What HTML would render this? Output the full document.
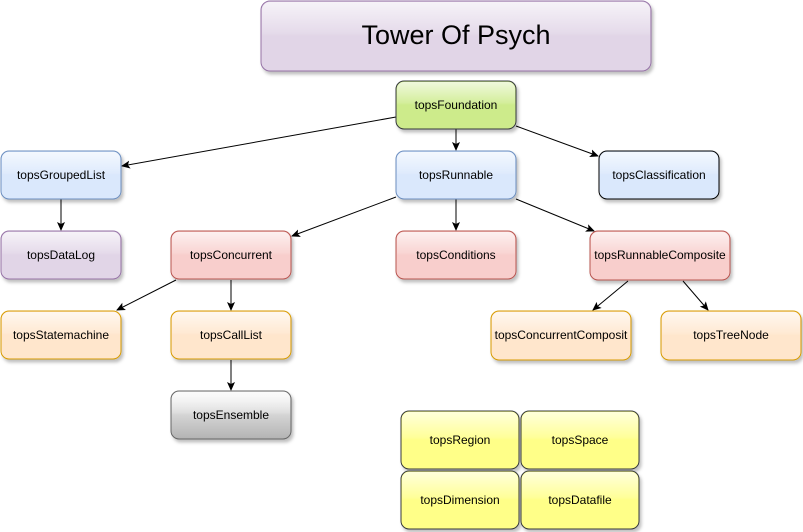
<!DOCTYPE html>
<html><head><meta charset="utf-8"><style>
html,body{margin:0;padding:0;background:#fff;}
svg{display:block;}
text{font-family:"Liberation Sans",sans-serif;font-size:12px;fill:#000;text-anchor:middle;dominant-baseline:central;}
</style></head><body>
<svg width="803" height="532" viewBox="0 0 803 532" xmlns="http://www.w3.org/2000/svg">
<defs>
<filter id="sh" x="-10%" y="-10%" width="130%" height="140%"><feDropShadow dx="2" dy="3" stdDeviation="1.5" flood-color="#000" flood-opacity="0.25"/></filter>
<linearGradient id="gl" x1="0" y1="0" x2="0" y2="1"><stop offset="0" stop-color="#fff" stop-opacity="0.7"/><stop offset="0.45" stop-color="#fff" stop-opacity="0.15"/><stop offset="0.5" stop-color="#fff" stop-opacity="0"/></linearGradient>
<linearGradient id="gray" x1="0" y1="0" x2="0" y2="1"><stop offset="0" stop-color="#f5f5f5"/><stop offset="1" stop-color="#b3b3b3"/></linearGradient>
<marker id="ar" markerWidth="10" markerHeight="10" refX="8" refY="4" orient="auto" markerUnits="userSpaceOnUse"><path d="M0,0 L9,4 L0,8 L2,4 Z" fill="#000"/></marker>
</defs>
<g fill="none" stroke="#000" stroke-width="1" marker-end="url(#ar)">
<line x1="396" y1="117" x2="122" y2="166"/>
<line x1="456" y1="129" x2="456" y2="150"/>
<line x1="516" y1="126" x2="598" y2="156"/>
<line x1="61" y1="199" x2="61" y2="230"/>
<line x1="396" y1="197" x2="292" y2="236"/>
<line x1="456" y1="199" x2="456" y2="230"/>
<line x1="516" y1="199" x2="594" y2="231"/>
<line x1="176" y1="280" x2="117" y2="310"/>
<line x1="231" y1="280" x2="231" y2="310"/>
<line x1="231" y1="360" x2="231" y2="390"/>
<line x1="628" y1="281" x2="593" y2="310"/>
<line x1="683" y1="281" x2="708" y2="310"/>
</g>
<g filter="url(#sh)">
<rect x="261" y="1" width="390" height="70" rx="9" fill="#e1d5e7" stroke="#9673a6"/>
<rect x="396" y="81" width="120" height="48" rx="8" fill="#cdeb8b" stroke="#36393d"/>
<rect x="1" y="151" width="120" height="48" rx="8" fill="#dae8fc" stroke="#6c8ebf"/>
<rect x="396" y="151" width="120" height="48" rx="8" fill="#dae8fc" stroke="#6c8ebf"/>
<rect x="599" y="151" width="120" height="48" rx="8" fill="#dae8fc" stroke="#000"/>
<rect x="1" y="231" width="120" height="48" rx="8" fill="#e1d5e7" stroke="#9673a6"/>
<rect x="171" y="231" width="120" height="48" rx="8" fill="#f8cecc" stroke="#b85450"/>
<rect x="396" y="231" width="120" height="48" rx="8" fill="#f8cecc" stroke="#b85450"/>
<rect x="590" y="231" width="140" height="49" rx="8" fill="#f8cecc" stroke="#b85450"/>
<rect x="1" y="311" width="120" height="48" rx="8" fill="#ffe6cc" stroke="#d79b00"/>
<rect x="171" y="311" width="120" height="48" rx="8" fill="#ffe6cc" stroke="#d79b00"/>
<rect x="491" y="311" width="140" height="49" rx="8" fill="#ffe6cc" stroke="#d79b00"/>
<rect x="661" y="311" width="140" height="49" rx="8" fill="#ffe6cc" stroke="#d79b00"/>
<rect x="171" y="391" width="120" height="48" rx="8" fill="url(#gray)" stroke="#666"/>
<rect x="401" y="411" width="118" height="58" rx="8" fill="#ffff88" stroke="#36393d"/>
<rect x="521" y="411" width="118" height="58" rx="8" fill="#ffff88" stroke="#36393d"/>
<rect x="401" y="471" width="118" height="58" rx="8" fill="#ffff88" stroke="#36393d"/>
<rect x="521" y="471" width="118" height="58" rx="8" fill="#ffff88" stroke="#36393d"/>
</g>
<g fill="url(#gl)" stroke="none">
<rect x="262" y="2" width="388" height="68" rx="8"/>
<rect x="397" y="82" width="118" height="46" rx="7"/>
<rect x="2" y="152" width="118" height="46" rx="7"/>
<rect x="397" y="152" width="118" height="46" rx="7"/>
<rect x="600" y="152" width="118" height="46" rx="7"/>
<rect x="2" y="232" width="118" height="46" rx="7"/>
<rect x="172" y="232" width="118" height="46" rx="7"/>
<rect x="397" y="232" width="118" height="46" rx="7"/>
<rect x="591" y="232" width="138" height="47" rx="7"/>
<rect x="2" y="312" width="118" height="46" rx="7"/>
<rect x="172" y="312" width="118" height="46" rx="7"/>
<rect x="492" y="312" width="138" height="47" rx="7"/>
<rect x="662" y="312" width="138" height="47" rx="7"/>
<rect x="172" y="392" width="118" height="46" rx="7"/>
<rect x="402" y="412" width="116" height="56" rx="7"/>
<rect x="522" y="412" width="116" height="56" rx="7"/>
<rect x="402" y="472" width="116" height="56" rx="7"/>
<rect x="522" y="472" width="116" height="56" rx="7"/>
</g>
<text x="456" y="35" style="font-size:27px">Tower Of Psych</text>
<text x="456" y="105">topsFoundation</text>
<text x="61" y="175">topsGroupedList</text>
<text x="456" y="175">topsRunnable</text>
<text x="659" y="175">topsClassification</text>
<text x="61" y="255">topsDataLog</text>
<text x="231" y="255">topsConcurrent</text>
<text x="456" y="255">topsConditions</text>
<text x="660" y="255">topsRunnableComposite</text>
<text x="61" y="335">topsStatemachine</text>
<text x="231" y="335">topsCallList</text>
<text x="561" y="335">topsConcurrentComposit</text>
<text x="731" y="335">topsTreeNode</text>
<text x="231" y="415">topsEnsemble</text>
<text x="460" y="440">topsRegion</text>
<text x="580" y="440">topsSpace</text>
<text x="460" y="500">topsDimension</text>
<text x="580" y="500">topsDatafile</text>
</svg>
</body></html>
